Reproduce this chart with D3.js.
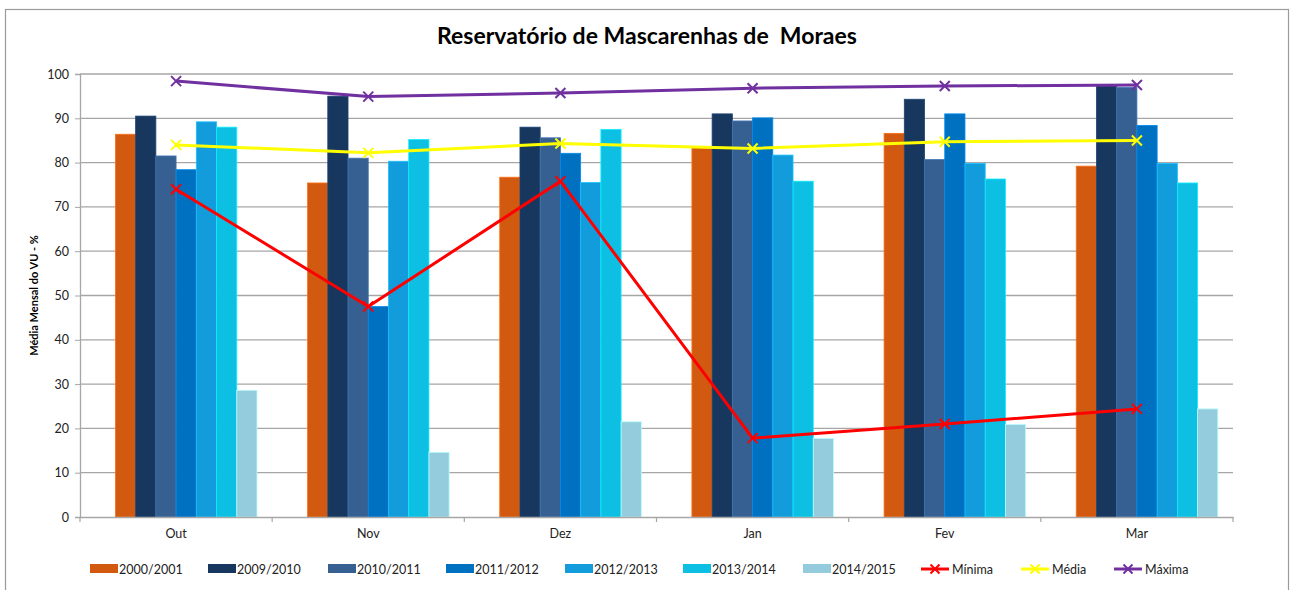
<!DOCTYPE html>
<html>
<head>
<meta charset="utf-8">
<script src="https://cdn.jsdelivr.net/npm/d3@7"></script>
<style>
  html, body { margin: 0; padding: 0; background: #fff; }
  svg { display: block; font-family: Lato, "Open Sans", sans-serif; }
</style>
</head>
<body>
<svg id="chart" width="1294" height="590"></svg>
<script>
// ---- data ----
const title = "Reservatório de Mascarenhas de  Moraes";
const yTitle = "Média Mensal do VU - %";
const months = ["Out", "Nov", "Dez", "Jan", "Fev", "Mar"];
const barSeries = ["2000/2001", "2009/2010", "2010/2011", "2011/2012", "2012/2013", "2013/2014", "2014/2015"];
const s2000 = [86.4, 75.4, 76.7, 83.4, 86.6, 79.2];
const s2009 = [90.5, 95.0, 88.0, 91.0, 94.3, 97.4];
const s2010 = [81.5, 81.0, 85.6, 89.4, 80.7, 97.0];
const s2011 = [78.4, 47.5, 82.1, 90.1, 91.0, 88.4];
const s2012 = [89.2, 80.3, 75.5, 81.7, 79.8, 79.8];
const s2013 = [88.0, 85.2, 87.5, 75.8, 76.3, 75.4];
const s2014 = [28.6, 14.6, 21.5, 17.7, 20.9, 24.4];
const lineSeries = ["Mínima", "Média", "Máxima"];
const minima = [74.0, 47.5, 75.8, 17.8, 21.0, 24.4];
const media = [84.0, 82.2, 84.3, 83.2, 84.7, 85.0];
const maxima = [98.4, 94.9, 95.7, 96.8, 97.3, 97.5];
const yTicks = [0, 10, 20, 30, 40, 50, 60, 70, 80, 90, 100];

const barValues = [s2000, s2009, s2010, s2011, s2012, s2013, s2014];
const lineValues = [minima, media, maxima];
const barColors = ["#D25A10", "#17375E", "#366092", "#0070C0", "#139CDC", "#0DC0E3", "#95CCDD"];
const lineColors = ["#FF0000", "#FFFF00", "#7030A0"];

// ---- layout ----
const svg = d3.select("#chart");
const L = 80, R = 1233, T = 74, B = 517;

// frame
svg.append("rect").attr("x", 5.5).attr("y", 9.5).attr("width", 1283).attr("height", 600)
  .attr("fill", "#fff").attr("stroke", "#9a9a9a").attr("stroke-width", 1.2);

const x0 = d3.scaleBand().domain(months).range([L, R]).paddingInner(0).paddingOuter(0);
// 8 slots per category (first slot left empty, as in the original), gap 150%
const x1 = d3.scaleBand().domain(d3.range(8)).range([0, x0.bandwidth()]).paddingInner(0).paddingOuter(0.75);
const y = d3.scaleLinear().domain([0, 100]).range([B, T]);

// gridlines
svg.append("g").selectAll("line").data(yTicks.filter(d => d > 0)).join("line")
  .attr("x1", L).attr("x2", R).attr("y1", d => y(d)).attr("y2", d => y(d))
  .attr("stroke", "#a6a6a6").attr("stroke-width", 1.3);

// bars
const gBars = svg.append("g");
barSeries.forEach((s, si) => {
  gBars.append("g").selectAll("rect").data(barValues[si]).join("rect")
    .attr("x", (d, i) => x0(months[i]) + x1(si + 1))
    .attr("y", d => y(d))
    .attr("width", x1.bandwidth())
    .attr("height", d => B - y(d))
    .attr("fill", barColors[si])
    .attr("stroke", d3.color(barColors[si]).brighter(0.6))
    .attr("stroke-width", 0.8);
});

// axes
const yAxis = d3.axisLeft(y).tickValues(yTicks).tickSize(5).tickPadding(6);
const gy = svg.append("g").attr("transform", `translate(${L},0)`).call(yAxis);
gy.select(".domain").attr("stroke", "#a6a6a6").attr("stroke-width", 1.3);
gy.selectAll(".tick line").attr("stroke", "#a6a6a6");
gy.selectAll(".tick text").attr("font-size", 12.5).attr("fill", "#222").attr("font-family", "Lato, sans-serif");

const xAxis = d3.axisBottom(x0).tickSize(0).tickPadding(12);
const gx = svg.append("g").attr("transform", `translate(0,${B})`).call(xAxis);
gx.select(".domain").attr("stroke", "#a6a6a6").attr("stroke-width", 1.5);
gx.selectAll(".tick text").attr("font-size", 12.5).attr("fill", "#222").attr("font-family", "Lato, sans-serif");
// category separator ticks
const sepTicks = months.map(m => x0(m)).concat([R]);
svg.append("g").selectAll("line").data(sepTicks).join("line")
  .attr("x1", d => d).attr("x2", d => d).attr("y1", B).attr("y2", B + 5)
  .attr("stroke", "#a6a6a6").attr("stroke-width", 1.2);

// lines
function xMark(g, cx, cy, color, r) {
  g.append("path")
    .attr("d", `M${cx - r},${cy - r}L${cx + r},${cy + r}M${cx - r},${cy + r}L${cx + r},${cy - r}`)
    .attr("stroke", color).attr("stroke-width", 2).attr("fill", "none");
}
const cxOf = i => x0(months[i]) + x0.bandwidth() / 2;
lineSeries.forEach((s, si) => {
  const g = svg.append("g");
  const line = d3.line().x((d, i) => cxOf(i)).y(d => y(d));
  g.append("path").datum(lineValues[si]).attr("d", line)
    .attr("fill", "none").attr("stroke", lineColors[si]).attr("stroke-width", 3)
    .attr("stroke-linejoin", "round");
  lineValues[si].forEach((v, i) => xMark(g, cxOf(i), y(v), lineColors[si], 5));
});

// title
svg.append("text").attr("x", 647).attr("y", 44).attr("text-anchor", "middle")
  .attr("font-size", 23).attr("font-weight", "bold").attr("fill", "#000")
  .style("white-space", "pre").text(title);

// y title
svg.append("text").attr("transform", `translate(38,${(T + B) / 2}) rotate(-90)`)
  .attr("text-anchor", "middle").attr("font-size", 11).attr("font-weight", "bold")
  .attr("fill", "#000").text(yTitle);

// legend
const legX = [90, 208, 328, 446, 565, 683, 803, 921, 1021, 1114];
const legY = 569;
const gl = svg.append("g");
barSeries.forEach((s, i) => {
  gl.append("rect").attr("x", legX[i]).attr("y", legY - 5).attr("width", 28).attr("height", 9)
    .attr("fill", barColors[i]);
  gl.append("text").attr("x", legX[i] + 29).attr("y", legY + 4.5).attr("font-size", 12.5)
    .attr("fill", "#222").text(s);
});
lineSeries.forEach((s, j) => {
  const lx = legX[barSeries.length + j];
  gl.append("line").attr("x1", lx).attr("x2", lx + 28).attr("y1", legY).attr("y2", legY)
    .attr("stroke", lineColors[j]).attr("stroke-width", 3);
  xMark(gl, lx + 14, legY, lineColors[j], 4.5);
  gl.append("text").attr("x", lx + 31).attr("y", legY + 4.5).attr("font-size", 12.5)
    .attr("fill", "#222").text(s);
});
</script>
</body>
</html>
